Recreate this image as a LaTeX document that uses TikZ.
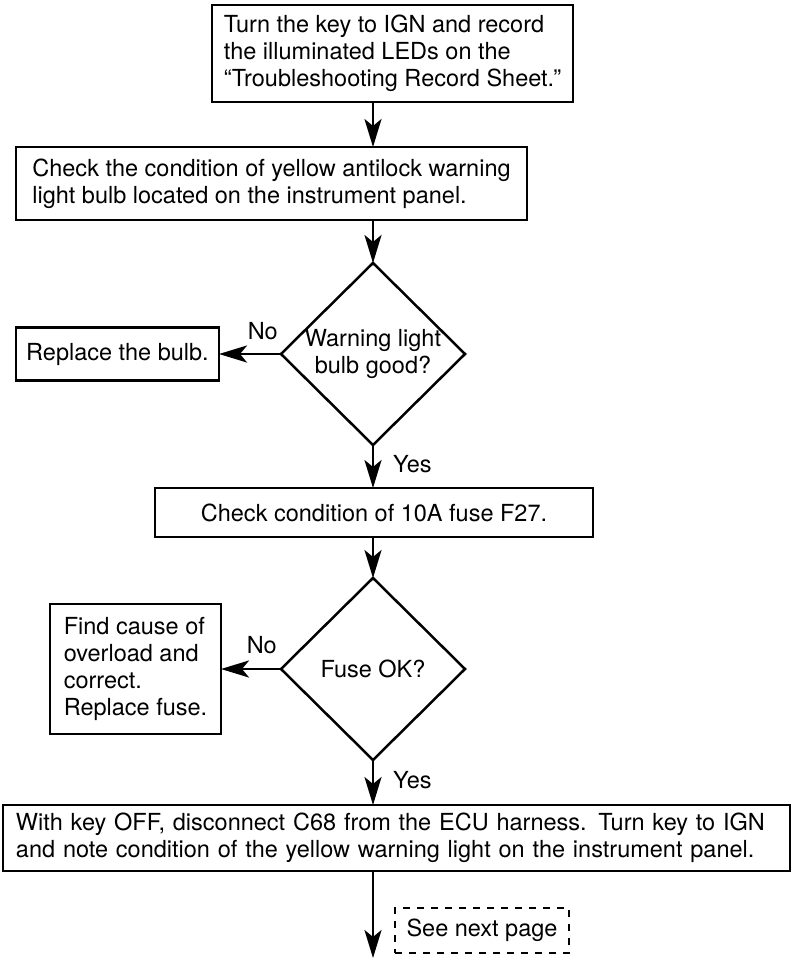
\documentclass[tikz,border=0pt]{standalone}
\usepackage{fontspec}
\setmainfont{TeX Gyre Heros}
\usetikzlibrary{calc, positioning, arrows.meta, shapes.geometric}

\begin{document}
\begin{tikzpicture}[x=1pt, y=1pt,
  every node/.style={font=\fontsize{23.5}{27}\selectfont},
  box/.style={draw, rectangle, line width=2.8pt, align=left, inner sep=0pt, outer sep=0pt},
  decision/.style={draw, diamond, line width=2.5pt, minimum width=184pt, minimum height=182pt, inner sep=-12pt, outer sep=0pt, align=center},
  lbl/.style={inner sep=0pt},
  link/.style={-{Stealth[length=28pt, width=17pt, inset=7pt]}, line width=2.8pt}]
  \useasboundingbox (0,0) rectangle (800,-970);

  % Start: key to IGN
  \node[box, minimum width=361pt, minimum height=97pt] (ign) at (392.5,-53.5) {Turn the key to IGN and record\\the illuminated LEDs on the\\“Troubleshooting Record Sheet.”};

  % Bulb check
  \node[box, below=45pt of ign, xshift=-121pt, minimum width=511pt, minimum height=73pt] (bulbchk) {Check the condition of yellow antilock warning\\light bulb located on the instrument panel.};

  % Bulb decision, No branch to the left
  \node[decision, below=43pt of bulbchk, xshift=101.5pt] (bulbok) {Warning light\\bulb good?};
  \node[box, left=62pt of bulbok, minimum width=203pt, minimum height=53pt] (bulb) {Replace the bulb.};

  % Fuse check
  \node[box, below=43pt of bulbok, xshift=1pt, minimum width=438pt, minimum height=49pt] (fusechk) {Check condition of 10A fuse F27.};

  % Fuse decision, No branch to the left
  \node[decision, below=41pt of fusechk, xshift=-1pt] (fuseok) {Fuse OK?};
  \node[box, left=60pt of fuseok, minimum width=171pt, minimum height=130pt] (overload) {Find cause of\\overload and\\correct.\\Replace fuse.};

  % ECU harness
  \node[box, below=45pt of fuseok, xshift=23.5pt, text width=761pt, inner xsep=13pt, minimum height=66pt] (ecu) {With key OFF, disconnect C68 from the ECU harness. Turn key to IGN\\and note condition of the yellow warning light on the instrument panel.};

  % Next page note
  \node[box, dash pattern=on 7pt off 7pt, line width=2pt, below=37pt of ecu, xshift=85.5pt, minimum width=174pt, minimum height=45pt, align=center] (nextpg) {See next page};
  \coordinate (out) at ($(ecu.south -| fuseok)+(0,-87)$);

  % Labels
  \node[lbl, above left=14pt and 3pt of bulbok.west] (no1) {No};
  \node[lbl, below right=10pt and 20pt of bulbok.south] (yes1) {Yes};
  \node[lbl, above left=15pt and 4pt of fuseok.west] (no2) {No};
  \node[lbl, below right=11pt and 20pt of fuseok.south] (yes2) {Yes};

  % Connections
  \draw[link] (ign.south -| bulbok) -- (bulbchk.north -| bulbok);
  \draw[link] (bulbchk.south -| bulbok) -- (bulbok.north);
  \draw[link] (bulbok.west) -- (bulb.east);
  \draw[link] (bulbok.south) -- (fusechk.north -| bulbok);
  \draw[link] (fusechk.south -| fuseok) -- (fuseok.north);
  \draw[link] (fuseok.west) -- (overload.east);
  \draw[link] (fuseok.south) -- (ecu.north -| fuseok);
  \draw[link] (ecu.south -| fuseok) -- (out);
\end{tikzpicture}
\end{document}
